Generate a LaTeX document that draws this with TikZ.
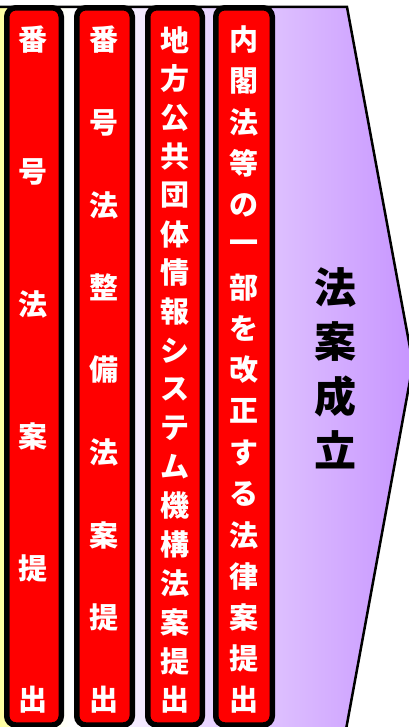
\documentclass[tikz,border=0pt]{standalone}
\usepackage{fontspec}
\newfontfamily\cjk{Noto Sans CJK JP}
\definecolor{bgyel}{HTML}{FFFF99}
\definecolor{bgpur}{HTML}{C795FF}
\definecolor{barred}{HTML}{FF0000}
\pgfdeclarehorizontalshading{bgshade}{100bp}{color(0bp)=(bgyel); color(25bp)=(bgyel); color(34bp)=(white); color(75bp)=(bgpur); color(100bp)=(bgpur)}
\begin{document}
\begin{tikzpicture}[x=1pt,y=-1pt,
  barbox/.style={draw=black, line width=5.5pt, fill=barred, rounded corners=9pt,
    minimum height=717.25pt, inner sep=0pt},
  barchar/.style={text=white, inner sep=0pt, font=\cjk\bfseries\fontsize{29}{29}\selectfont},
  bigchar/.style={text=black, inner sep=0pt, font=\cjk\bfseries\fontsize{42}{42}\selectfont}]
\useasboundingbox (0,0) rectangle (408,727);
% background arrow
\path[shading=bgshade, draw=black, line width=2.5pt, line join=miter]
  (-5,7) -- (347,7) -- (413,364) -- (345,735) -- (-5,735) -- cycle;
% bars
\node[barbox, minimum width=54.5pt] (bar1) at (34,366.4) {};
\node[barbox, minimum width=55.5pt] (bar2) at (104.5,366.4) {};
\node[barbox, minimum width=54.5pt] (bar3) at (175,366.4) {};
\node[barbox, minimum width=56.5pt] (bar4) at (244,366.4) {};
% texts
\foreach \c [count=\i] in {番,号,法,案,提,出}
  \node[barchar] (b1-\i) at (33,{40+(\i-1)*132}) {\c};
\foreach \c [count=\i] in {番,号,法,整,備,法,案,提,出}
  \node[barchar] (b2-\i) at (103.5,{40+(\i-1)*82.5}) {\c};
\foreach \c [count=\i] in {地,方,公,共,団,体,情,報,シ,ス,テ,ム,機,構,法,案,提,出}
  \node[barchar] (b3-\i) at (175,{40+(\i-1)*38.82}) {\c};
\foreach \c [count=\i] in {内,閣,法,等,の,一,部,を,改,正,す,る,法,律,案,提,出}
  \node[barchar] (b4-\i) at (244,{40+(\i-1)*41.25}) {\c};
\foreach \c [count=\i] in {法,案,成,立}
  \node[bigchar] (r-\i) at (335,{288+(\i-1)*54}) {\c};
\end{tikzpicture}
\end{document}
